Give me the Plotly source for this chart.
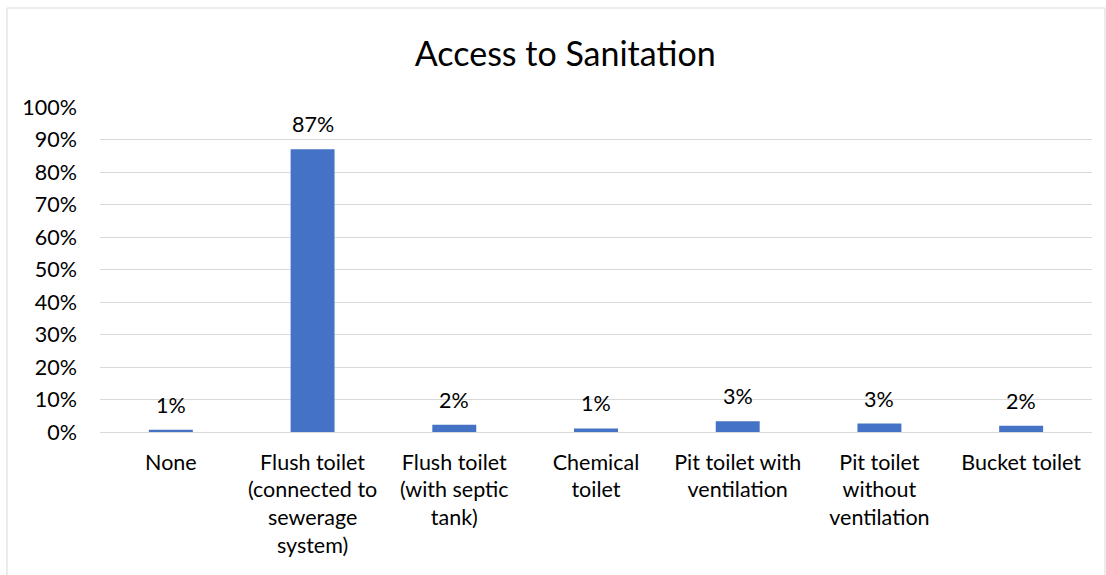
import plotly.graph_objects as go

# Share of households by type of sanitation
categories = [
    "None",
    "Flush toilet<br>(connected to<br>sewerage<br>system)",
    "Flush toilet<br>(with septic<br>tank)",
    "Chemical<br>toilet",
    "Pit toilet with<br>ventilation",
    "Pit toilet<br>without<br>ventilation",
    "Bucket toilet",
]
shares = [0.007, 0.87, 0.022, 0.011, 0.033, 0.026, 0.019]
y_ticks = [i / 10 for i in range(11)]
y_tick_labels = [f"{i * 10}%" for i in range(11)]

FONT = "Lato"
BLUE = "#4472C4"
GRID = "#d9d9d9"
TEXT = "#000000"
SIZE = 21.5

fig = go.Figure()
fig.add_trace(go.Bar(
    x=list(range(len(categories))),
    y=shares,
    marker=dict(color=BLUE, line=dict(width=0)),
    hoverinfo="skip",
))

# value labels above each bar
for i, v in enumerate(shares):
    fig.add_annotation(
        x=i, y=v, xref="x", yref="y",
        text=f"{v:.0%}", showarrow=False,
        yanchor="bottom", yshift=10,
        font=dict(family=FONT, size=SIZE, color=TEXT),
    )

# outer chart border
fig.add_shape(
    type="rect", xref="paper", yref="paper",
    x0=-0.0938, x1=1.0131, y0=-0.46, y1=1.3046,
    line=dict(color=GRID, width=1), fillcolor="rgba(0,0,0,0)",
    layer="below",
)

fig.update_layout(
    width=1106, height=575,
    margin=dict(l=100, r=14, t=107, b=143, autoexpand=False),
    paper_bgcolor="white", plot_bgcolor="white",
    showlegend=False,
    bargap=0.69,
    title=dict(
        text="Access to Sanitation",
        x=0.469, xanchor="center", xref="paper",
        y=0.906, yanchor="middle", yref="container",
        font=dict(family=FONT, size=34, color=TEXT),
    ),
    font=dict(family=FONT, size=SIZE, color=TEXT),
    xaxis=dict(
        tickvals=list(range(len(categories))),
        ticktext=categories,
        range=[-0.5, len(categories) - 0.5],
        showgrid=False, zeroline=False, showline=False,
        ticks="", ticklabelstandoff=15,
        tickfont=dict(family=FONT, size=SIZE, color=TEXT),
        fixedrange=True,
    ),
    yaxis=dict(
        range=[0, 1],
        tickvals=y_ticks, ticktext=y_tick_labels,
        showgrid=True, gridcolor=GRID, gridwidth=1,
        zeroline=True, zerolinecolor=GRID, zerolinewidth=1,
        showline=False, ticks="", ticklabelstandoff=22,
        tickfont=dict(family=FONT, size=SIZE, color=TEXT),
        fixedrange=True,
    ),
)

fig.write_html("out.html")
